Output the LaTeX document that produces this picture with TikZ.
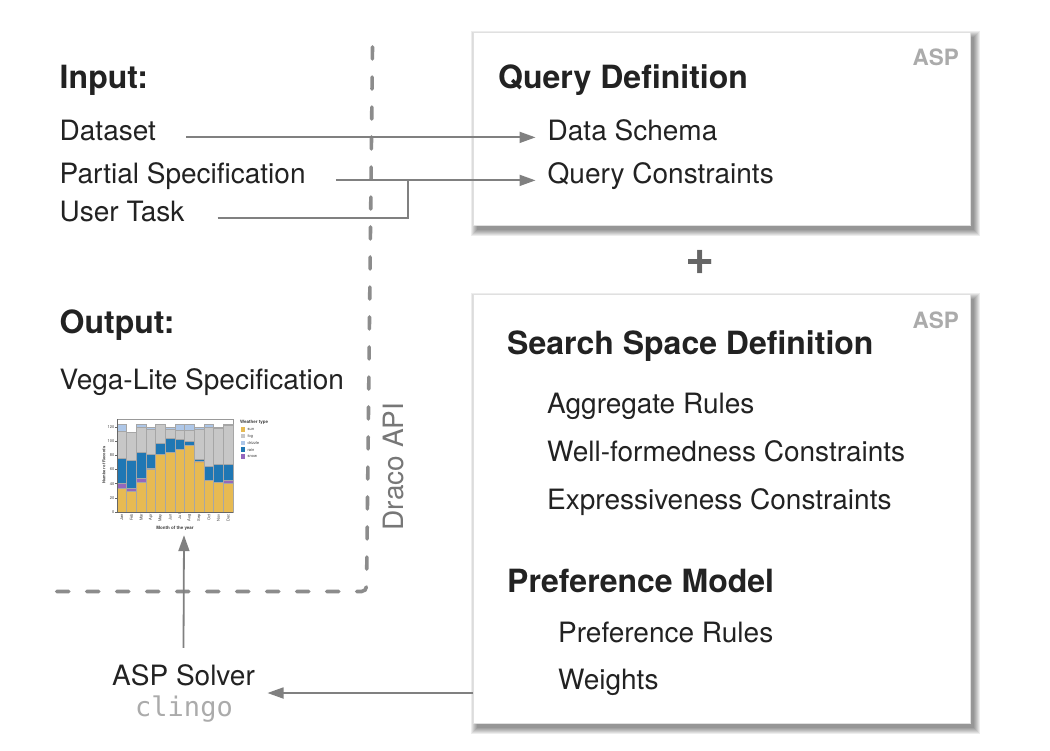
\documentclass[tikz,border=0pt]{standalone}
\usepackage{fontspec}
\setmainfont{TeX Gyre Heros}
\newfontfamily\codefont{DejaVu Sans Mono}
\usetikzlibrary{arrows.meta}

\definecolor{ink}{HTML}{222222}
\definecolor{linegray}{HTML}{808080}
\definecolor{dashgray}{HTML}{8C8C8C}
\definecolor{taggray}{HTML}{ABABAB}
\definecolor{apigray}{HTML}{777777}
\definecolor{plusgray}{HTML}{666666}
\definecolor{wxsun}{HTML}{E7BA52}
\definecolor{wxfog}{HTML}{C7C7C7}
\definecolor{wxdrizzle}{HTML}{AEC7E8}
\definecolor{wxrain}{HTML}{1F77B4}
\definecolor{wxsnow}{HTML}{9467BD}

\tikzset{
  wire/.style={draw=linegray, line width=1.8pt},
  conn/.style={wire, -{Triangle[length=16pt,width=11pt]}},
  head/.style={inner sep=0pt, anchor=base west, text=ink,
    font=\fontsize{32}{36}\selectfont\bfseries},
  item/.style={inner sep=0pt, anchor=base west, text=ink,
    font=\fontsize{28}{32}\selectfont},
  tag/.style={inner sep=0pt, anchor=base east, text=taggray,
    font=\fontsize{22.5}{24}\selectfont\bfseries},
  panel/.style={fill=white, draw=black!12, line width=0.6pt,
    inner sep=0pt, outer sep=0pt, anchor=north west},
  boundary/.style={draw=dashgray, line width=3.6pt, line cap=round,
    dash pattern=on 12pt off 18pt, rounded corners=5pt},
  tiny/.style={inner sep=0.4pt, font=\fontsize{4}{4}\selectfont, text=black!75},
}

% soft drop shadow under a panel: (x1,y1) top left, (x2,y2) bottom right
\newcommand\panelshadow[4]{%
  \foreach \k in {1,...,7}{%
    \pgfmathsetmacro\grow{7-\k}%
    \fill[black, opacity=0.07]
      ({#1+4-\grow},{#2+5-\grow}) rectangle ({#3+4+\grow},{#4+5+\grow});
  }%
}

% one stacked segment of the weather chart
\newcommand\wxseg[5]{%
  \fill[#5, draw=black!35, line width=0.5pt]
    (#1,{512-0.708*(#3)}) rectangle (#2,{512-0.708*(#4)});
}
% a month bar: index, sun, snow, rain, fog, drizzle
\newcommand\wxbar[6]{%
  \pgfmathsetmacro\xa{117+9.667*#1}%
  \pgfmathsetmacro\xb{117+9.667*(#1+1)}%
  \pgfmathsetmacro\sa{#2}%
  \pgfmathsetmacro\sb{#2+#3}%
  \pgfmathsetmacro\sc{#2+#3+#4}%
  \pgfmathsetmacro\sd{#2+#3+#4+#5}%
  \pgfmathsetmacro\se{#2+#3+#4+#5+#6}%
  \wxseg{\xa}{\xb}{0}{\sa}{wxsun}%
  \wxseg{\xa}{\xb}{\sa}{\sb}{wxsnow}%
  \wxseg{\xa}{\xb}{\sb}{\sc}{wxrain}%
  \wxseg{\xa}{\xb}{\sc}{\sd}{wxfog}%
  \wxseg{\xa}{\xb}{\sd}{\se}{wxdrizzle}%
}

\begin{document}
\begin{tikzpicture}[x=1pt, y=-1pt]
\useasboundingbox (0,0) rectangle (1050,750);
\fill[white] (0,0) rectangle (1050,750);

% ---------- panels ----------
\panelshadow{473}{32}{970}{225}
\node[panel, minimum width=497pt, minimum height=193pt] (qbox) at (473,32) {};
\panelshadow{473}{294}{970}{723}
\node[panel, minimum width=497pt, minimum height=429pt] (ssbox) at (473,294) {};

\node[tag] (qtag) at (959,65) {ASP};
\node[tag] (stag) at (959,328) {ASP};

\node[head] (qdef) at (498,88) {Query Definition};
\node[item] (schema) at (547.5,140) {Data Schema};
\node[item] (qcons) at (547.5,183) {Query Constraints};

\node[inner sep=0pt, text=plusgray, font=\fontsize{50}{50}\selectfont\bfseries]
  (plus) at (700.5,262.5) {+};

\node[head] (ssdef) at (507,354.5) {Search Space Definition};
\node[item] (agg) at (547,413) {Aggregate Rules};
\node[item] (wf) at (547,461) {Well-formedness Constraints};
\node[item] (expr) at (547,509) {Expressiveness Constraints};
\node[head] (pref) at (507,592) {Preference Model};
\node[item] (prules) at (558,642.5) {Preference Rules};
\node[item] (weights) at (558,689) {Weights};

% ---------- inputs / outputs ----------
\node[head] (input) at (59.5,88) {Input:};
\node[item] (dataset) at (59.5,140) {Dataset};
\node[item] (partial) at (59.5,183) {Partial Specification};
\node[item] (task) at (59.5,221) {User Task};

\node[head] (output) at (59.5,333) {Output:};
\node[item] (vl) at (59.5,389) {Vega-Lite Specification};

\node[item, anchor=base] (solver) at (183.5,685) {ASP Solver};
\node[inner sep=0pt, anchor=base, text=taggray,
  font=\fontsize{27}{30}\selectfont\codefont] (clingo) at (184,716.5) {clingo};

% ---------- API boundary ----------
\draw[boundary] (372.5,47) -- (366.5,591.5) -- (55,591.5);
\node[inner sep=0pt, anchor=base, rotate=90, text=apigray,
  font=\fontsize{28}{32}\selectfont] (api) at (403.5,466.5) {Draco API};

% ---------- chart ----------
\node[minimum width=172pt, minimum height=121pt, inner sep=0pt] (chart) at (184,474.5) {};
\draw[black!40, line width=0.6pt] (117,419) rectangle (233,512);
\wxbar{0}{33}{8}{35}{38}{10}
\wxbar{1}{30}{3}{40}{39}{1}
\wxbar{2}{42}{6}{37}{35}{4}
\wxbar{3}{61}{1}{19}{36}{3}
\wxbar{4}{82}{0}{15}{27}{0}
\wxbar{5}{85}{0}{19}{13}{3}
\wxbar{6}{89}{0}{14}{13}{8}
\wxbar{7}{94}{0}{6}{16}{8}
\wxbar{8}{71}{0}{4}{42}{3}
\wxbar{9}{45}{0}{20}{55}{4}
\wxbar{10}{42}{0}{25}{51}{2}
\wxbar{11}{40}{5}{23}{55}{1}
\draw[black!60, line width=0.5pt] (117,419) -- (117,512) -- (233,512);
\foreach \v in {0,20,...,120}{
  \draw[black!60, line width=0.4pt] (115,{512-0.708*\v}) -- (117,{512-0.708*\v});
  \node[tiny, anchor=east] at (115,{512-0.708*\v}) {\v};
}
\foreach \m [count=\i from 0] in {Jan,Feb,Mar,Apr,May,Jun,Jul,Aug,Sep,Oct,Nov,Dec}{
  \node[tiny, anchor=east, rotate=90] at ({117+9.667*\i+4.8},513.5) {\m};
}
\node[tiny, font=\fontsize{4.5}{5}\selectfont\bfseries] at (175,528.5) {Month of the year};
\node[tiny, rotate=90, font=\fontsize{4}{4}\selectfont\bfseries] at (104,465) {Number of Records};
\node[tiny, anchor=west, font=\fontsize{4.5}{5}\selectfont\bfseries] at (239.5,422.5) {Weather type};
\foreach \c/\l [count=\i from 0] in {wxsun/sun,wxfog/fog,wxdrizzle/drizzle,wxrain/rain,wxsnow/snow}{
  \fill[\c] (240.5,{427+6.8*\i}) rectangle (245,{431.5+6.8*\i});
  \node[tiny, anchor=west] at (247,{429.3+6.8*\i}) {\l};
}

% ---------- connectors ----------
\draw[conn] ([xshift=30pt]dataset.mid east) -- ([xshift=-12pt]schema.mid west);
\draw[conn] ([xshift=30pt]partial.mid east) -- ([xshift=-12pt]qcons.mid west);
\coordinate (merge) at (408,0);
\draw[wire] ([xshift=33pt]task.mid east) -| (merge |- partial.mid east);
\coordinate (solverin) at ([shift={(12.5,8)}]solver.base east);
\draw[conn] (ssbox.west |- solverin) -- (solverin);
\draw[conn] ([yshift=16pt]solver.north) -- (chart.south);
\end{tikzpicture}
\end{document}
